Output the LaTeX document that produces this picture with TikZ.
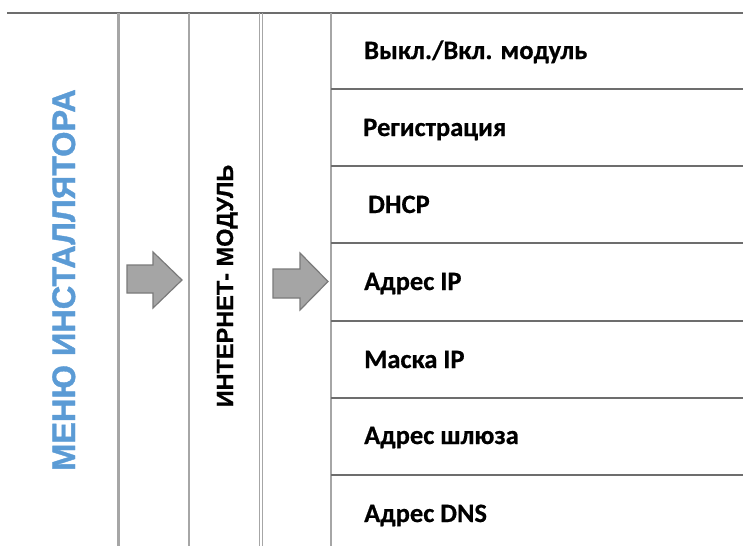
\documentclass[tikz,border=0pt]{standalone}
\usepackage{fontspec}
\setmainfont{Liberation Sans}[BoldFont=Liberation Sans Bold]
\newfontfamily\menufont{Liberation Sans Bold}[FakeBold=1.2]
\newfontfamily\modfont{Liberation Sans Bold}[FakeBold=0.6]
\newfontfamily\calibri{Carlito Bold}[FakeBold=0.6]
\usetikzlibrary{positioning}
\definecolor{menublue}{HTML}{5B9BD5}
\definecolor{linegray}{HTML}{A6A6A6}
\definecolor{rulegray}{HTML}{6D6D6D}
\definecolor{arrowfill}{HTML}{A5A5A5}
\definecolor{arrowedge}{HTML}{7A7A7A}
\tikzset{
  item/.style={anchor=base west, inner sep=0pt, font=\calibri\fontsize{26.5}{30}\selectfont},
  sideways/.style={rotate=90, anchor=base, inner sep=0pt},
  bigarrow/.style={fill=arrowfill, draw=arrowedge, line width=1.2pt, line join=miter}
}

\begin{document}
\begin{tikzpicture}[x=1pt,y=-1pt]
    \useasboundingbox (0,0) rectangle (743,546);
    % columns
    \draw[rulegray, line width=1.3pt] (7,13) -- (743,13);
    \draw[linegray, line width=3pt] (118,13) -- (118,546);
    \draw[linegray, line width=1.5pt] (189,13) -- (189,546);
    \draw[linegray, line width=1pt] (259,13) -- (259,546);
    \draw[linegray, line width=1pt] (262,13) -- (262,546);
    \draw[linegray, line width=1.5pt] (331,13) -- (331,546);
    \foreach \y in {89,166,243,321,398,475}
        \draw[rulegray, line width=1.3pt] (331,\y) -- (743,\y);

    \node[sideways, text=menublue, font=\menufont\fontsize{32.5}{36}\selectfont] (menu) at (75,280) {МЕНЮ ИНСТАЛЛЯТОРА};
    \node[sideways, font=\modfont\fontsize{23.5}{26}\selectfont] (modul) at (233,286) {ИНТЕРНЕТ- МОДУЛЬ};

    \filldraw[bigarrow] (127,265) -- (153,265) -- (153,252) -- (182,280) -- (153,308) -- (153,293) -- (127,293) -- cycle;
    \filldraw[bigarrow] (273,269) -- (300,269) -- (300,253) -- (328,281.5) -- (300,310) -- (300,298) -- (273,298) -- cycle;

    \node[item] (onoff) at (364,59) {Выкл./Вкл. модуль};
    \node[item] (reg) at (363,136) {Регистрация};
    \node[item] (dhcp) at (368,213) {DHCP};
    \node[item] (ip) at (364,290) {Адрес IP};
    \node[item] (mask) at (364,368) {Маска IP};
    \node[item] (gate) at (364,444) {Адрес шлюза};
    \node[item] (dns) at (364,522) {Адрес DNS};
\end{tikzpicture}
\end{document}
